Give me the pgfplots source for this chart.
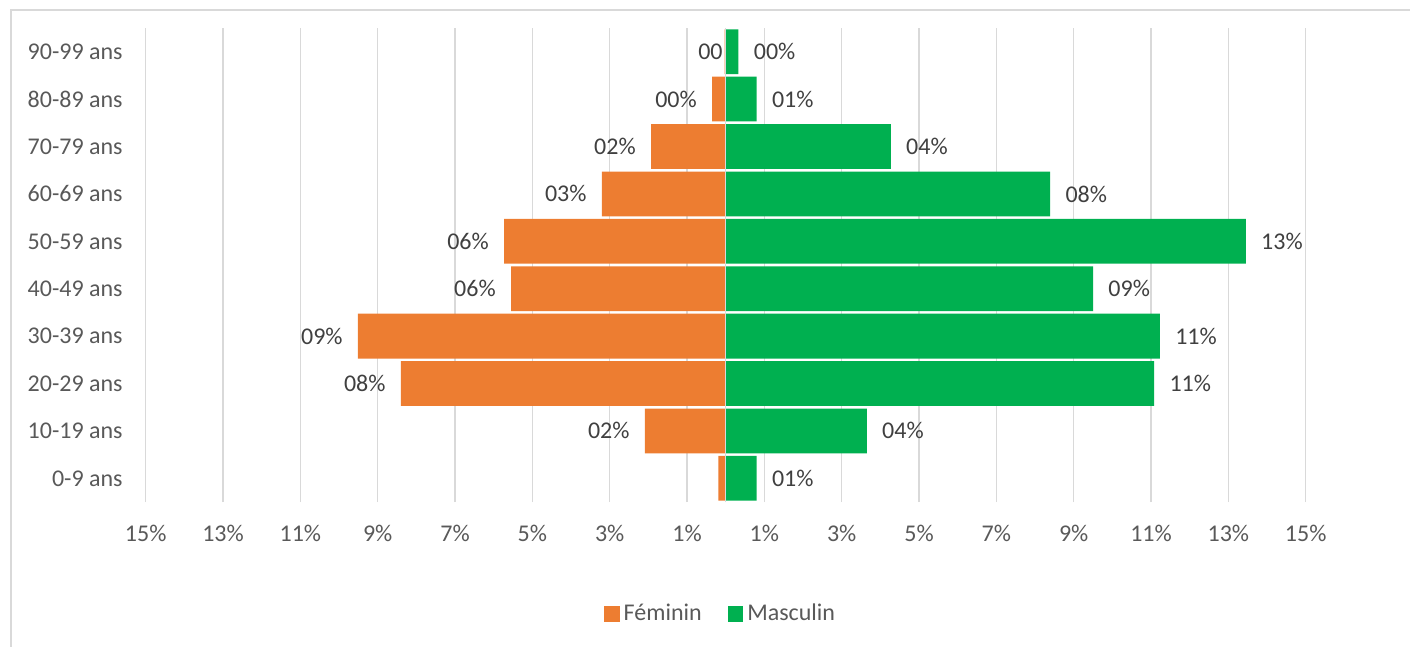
\documentclass[border=0pt]{standalone}
\usepackage{fontspec}
\setmainfont{Carlito}
\usepackage{pgfplots}
\pgfplotsset{compat=1.18}
\definecolor{fem}{HTML}{ED7D31}
\definecolor{mas}{HTML}{00B050}
\definecolor{gridc}{HTML}{D9D9D9}
\definecolor{txt}{HTML}{595959}
\definecolor{lbl}{HTML}{404040}
\begin{document}
\begin{tikzpicture}[font=\fontsize{12}{14.4}\selectfont]
\path[use as bounding box] (0pt,0pt) rectangle (705pt,-323.5pt);
\draw[gridc, line width=0.75pt] (5.5pt,-323.5pt) -- (5.5pt,-5pt) -- (705pt,-5pt);
\begin{axis}[
  at={(72.85pt,-251pt)}, anchor=south west,
  scale only axis, width=580pt, height=237pt,
  xbar, bar width=0.945, bar shift=0pt,
  xmin=-15, xmax=15, ymin=-0.5, ymax=9.5,
  xtick={-15,-13,...,15},
  xticklabels={15\%,13\%,11\%,9\%,7\%,5\%,3\%,1\%,1\%,3\%,5\%,7\%,9\%,11\%,13\%,15\%},
  ytick={0,1,2,3,4,5,6,7,8,9},
  yticklabels={0-9 ans,10-19 ans,20-29 ans,30-39 ans,40-49 ans,50-59 ans,60-69 ans,70-79 ans,80-89 ans,90-99 ans},
  axis line style={draw=none},
  major tick length=0pt,
  xmajorgrids, major grid style={gridc, line width=0.75pt},
  xticklabel style={anchor=center, yshift=-15.5pt, text=txt, inner sep=0pt},
  yticklabel style={anchor=east, xshift=-11.35pt, text=txt, inner sep=0pt},
  legend style={draw=none, fill=none, at={(0.4965,-0.2363)}, anchor=center,
    legend columns=2, text=txt, inner sep=0pt,
    /tikz/every even column/.append style={column sep=11pt}},
  legend cell align=left,
]
\addplot[fill=fem, draw=none, point meta=explicit symbolic,
  legend image code/.code={\fill[fem] (0pt,-3.75pt) rectangle (7.75pt,4pt);},
  nodes near coords, nodes near coords style={anchor=east, xshift=-7.5pt, inner sep=0pt, text=lbl}]
  coordinates {
  (-0.19,0) []
  (-2.09,1) [02\%]
  (-8.40,2) [08\%]
  (-9.51,3) [09\%]
  (-5.55,4) [06\%]
  (-5.73,5) [06\%]
  (-3.20,6) [03\%]
  (-1.93,7) [02\%]
  (-0.35,8) [00\%]
  (-0.03,9) [00\kern-6.75pt]
  };
\addlegendentry{Féminin}
\addplot[fill=mas, draw=none, point meta=explicit symbolic,
  legend image code/.code={\fill[mas] (0pt,-3.75pt) rectangle (7.75pt,4pt);},
  nodes near coords, nodes near coords style={anchor=west, xshift=7.5pt, inner sep=0pt, text=lbl}]
  coordinates {
  (0.80,0) [01\%]
  (3.65,1) [04\%]
  (11.08,2) [11\%]
  (11.23,3) [11\%]
  (9.50,4) [09\%]
  (13.45,5) [13\%]
  (8.39,6) [08\%]
  (4.27,7) [04\%]
  (0.80,8) [01\%]
  (0.33,9) [00\%]
  };
\addlegendentry{Masculin}
\draw[gridc, line width=0.75pt] (axis cs:0,-0.5) -- (axis cs:0,9.5);
\end{axis}
\end{tikzpicture}
\end{document}
